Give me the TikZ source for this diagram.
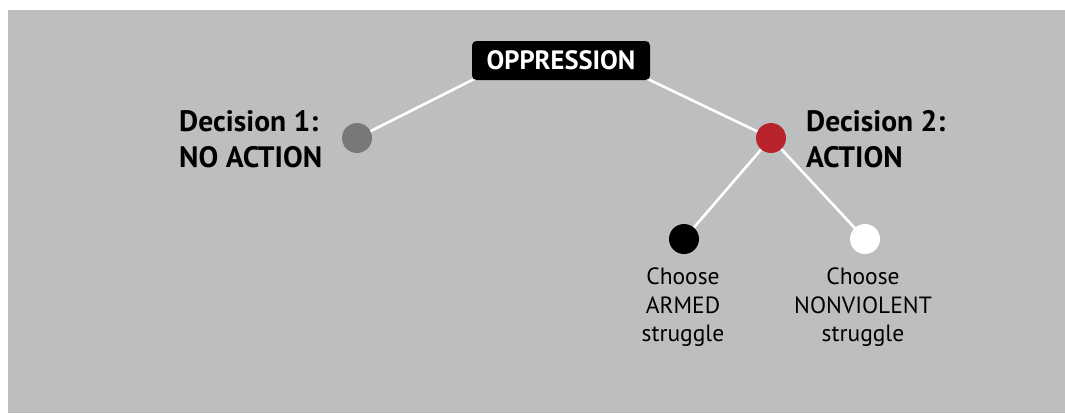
\documentclass[tikz,border=0pt]{standalone}
\usepackage{fontspec}
\setmainfont{PT Sans}
\usetikzlibrary{calc,backgrounds}
\pgfdeclarelayer{bgrect}
\pgfsetlayers{bgrect,background,main}
\definecolor{bggray}{RGB}{189,190,192}
\definecolor{dotgray}{RGB}{120,120,123}
\definecolor{dotred}{RGB}{185,35,43}
\tikzset{
  dotnode/.style={circle,minimum size=30pt,inner sep=0pt,draw=none},
  declabel/.style={inner sep=0pt,align=left,font=\fontsize{29.5}{36}\selectfont\bfseries},
  choicelabel/.style={inner sep=0pt,align=center,font=\fontsize{23.5}{28.5}\selectfont},
  link/.style={draw=white,line width=2.6pt},
  topbox/.style={fill=black,rounded corners=4.5pt,minimum width=178pt,minimum height=39pt,inner sep=0pt,text=white,font=\fontsize{26.5}{28}\selectfont\bfseries}
}
\begin{document}
\begin{tikzpicture}[x=1pt,y=-1pt]
\useasboundingbox (0,0) rectangle (1065,413);
\begin{pgfonlayer}{bgrect}
\fill[bggray] (8,10) rectangle (1065,413);
\end{pgfonlayer}
\node[topbox] (oppr) at (561,60.5) {OPPRESSION};
\node[dotnode,fill=dotgray] (d1) at (357,138) {};
\node[dotnode,fill=dotred] (d2) at (771,138) {};
\node[dotnode,fill=black] (armed) at (684,239) {};
\node[dotnode,fill=white] (nonv) at (865,239) {};
\node[declabel,anchor=north west] (l1) at (179,110) {Decision 1:\\NO ACTION};
\node[declabel,anchor=north west] (l2) at (806,110) {Decision 2:\\ACTION};
\node[choicelabel,anchor=north] (la) at (683,268) {Choose\\ARMED\\struggle};
\node[choicelabel,anchor=north] (ln) at (863,268) {Choose\\NONVIOLENT\\struggle};
\begin{pgfonlayer}{background}
\draw[link] ($(oppr.south west)!-6pt!(d1.center)$) -- (d1.center);
\draw[link] ($(oppr.south east)!-6pt!(d2.center)$) -- (d2.center);
\draw[link] (d2.center) -- (armed.center);
\draw[link] (d2.center) -- (nonv.center);
\end{pgfonlayer}
\end{tikzpicture}
\end{document}
